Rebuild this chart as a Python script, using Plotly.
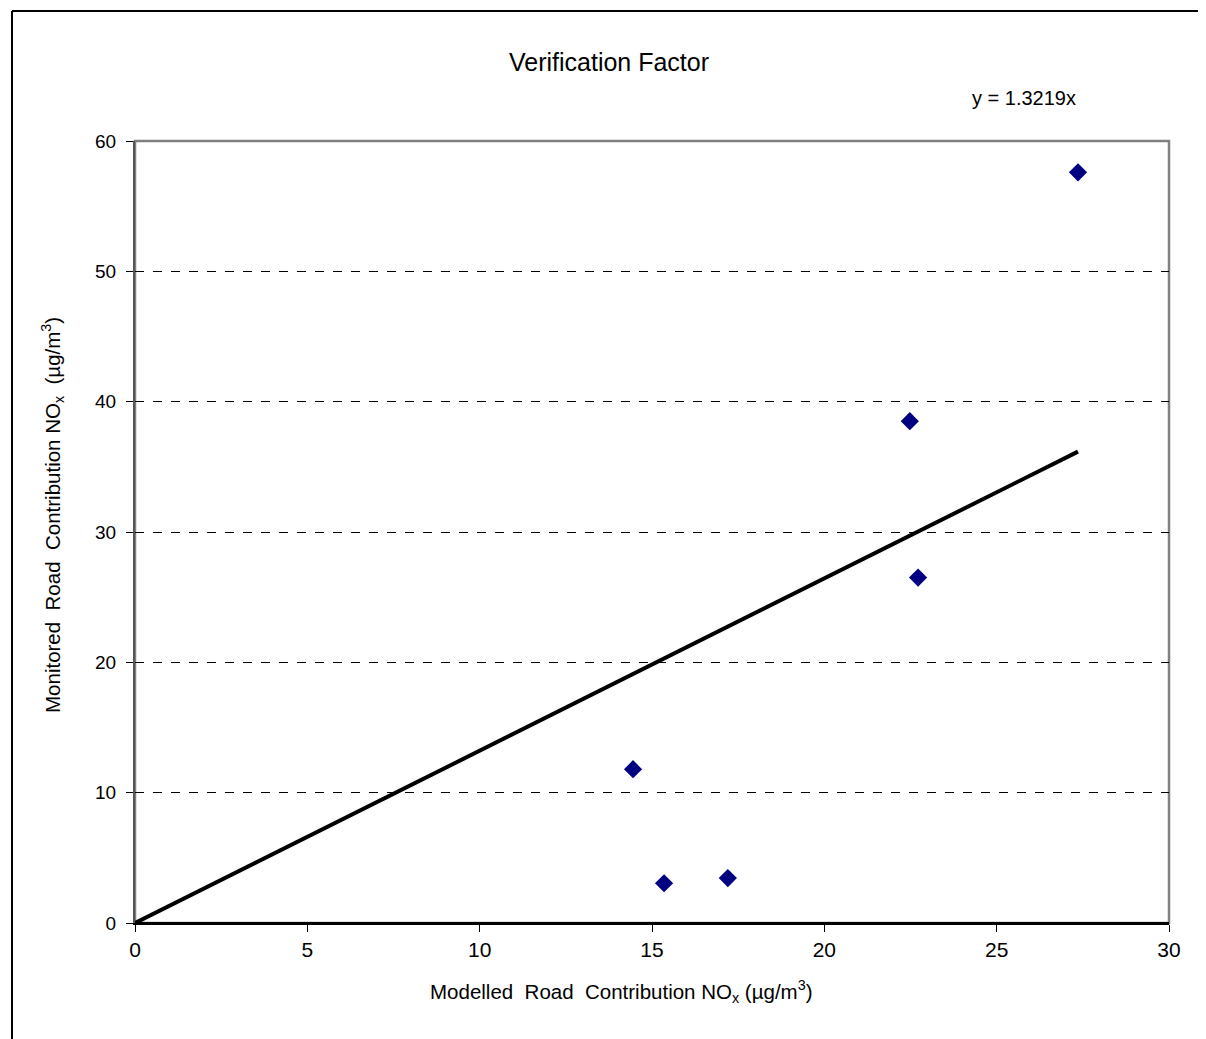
import plotly.graph_objects as go

modelled = [14.45, 15.35, 17.2, 22.48, 22.72, 27.36]
monitored = [11.8, 3.05, 3.45, 38.5, 26.5, 57.6]
slope = 1.3219
trend_x = [0, 27.36]
trend_y = [slope * v for v in trend_x]
x_ticks = [0, 5, 10, 15, 20, 25, 30]
y_ticks = [0, 10, 20, 30, 40, 50, 60]

font = "Liberation Sans, Arial, sans-serif"

# page body has an 8px offset; margins compensate so plot area sits at 135..1169 x 141..923
OFF = 8
L, R, T, B = 135 - OFF, 1206 + OFF - 1169, 141 - OFF, 1039 + OFF - 923
PW, PH = 1169 - 135, 923 - 141

def px(xp):
    return (xp - 135) / PW

def py(yp):
    return (923 - yp) / PH

fig = go.Figure()
fig.add_trace(go.Scatter(x=trend_x, y=trend_y, mode="lines",
                         line=dict(color="black", width=4), showlegend=False,
                         cliponaxis=False))
fig.add_trace(go.Scatter(x=modelled, y=monitored, mode="markers",
                         marker=dict(symbol="diamond", size=14, color="#000080"),
                         showlegend=False, cliponaxis=False))

fig.update_layout(
    width=1206, height=1039,
    margin=dict(l=L, r=R, t=T, b=B),
    paper_bgcolor="white", plot_bgcolor="white",
    font=dict(family=font, size=18, color="black"),
    title=dict(text="Verification Factor", x=(609 - OFF) / 1206, xanchor="center",
               y=1 - (62 - OFF) / 1039, yanchor="middle",
               font=dict(size=25, family=font)),
    xaxis=dict(range=[0, 30], tickvals=x_ticks, showgrid=False, zeroline=False,
               showline=True, linecolor="black", linewidth=2,
               ticks="outside", ticklen=7, tickcolor="black",
               tickfont=dict(size=21)),
    yaxis=dict(range=[0, 60], tickvals=y_ticks, showgrid=True, gridcolor="black",
               griddash="dash", gridwidth=1, zeroline=False,
               showline=True, linecolor="#555555", linewidth=2,
               ticks="outside", ticklen=7, tickcolor="black",
               tickfont=dict(size=19), ticklabelstandoff=6),
    shapes=[
        dict(type="rect", xref="paper", yref="paper", x0=0, x1=1, y0=0, y1=1,
             line=dict(color="#808080", width=2.5), layer="below"),
        dict(type="line", xref="paper", yref="paper", x0=0, x1=1, y0=0, y1=0,
             line=dict(color="black", width=2)),
        dict(type="line", xref="paper", yref="paper",
             x0=px(12), x1=px(1230), y0=py(11), y1=py(11),
             line=dict(color="black", width=2)),
        dict(type="line", xref="paper", yref="paper",
             x0=px(12), x1=px(12), y0=py(11), y1=py(1060),
             line=dict(color="black", width=2)),
    ],
    annotations=[
        dict(text="y = 1.3219x", xref="paper", yref="paper",
             x=px(1024), y=py(98), showarrow=False,
             xanchor="center", yanchor="middle", font=dict(size=20)),
        dict(text="Modelled  Road  Contribution NO<sub>x</sub> (µg/m<sup>3</sup>)",
             xref="paper", yref="paper", x=px(621), y=py(991), showarrow=False,
             xanchor="center", yanchor="middle", font=dict(size=20.5)),
        dict(text="Monitored  Road  Contribution NO<sub>x</sub>  (µg/m<sup>3</sup>)",
             xref="paper", yref="paper", x=px(52), y=py(515), showarrow=False,
             textangle=-90, xanchor="center", yanchor="middle", font=dict(size=20.5)),
    ],
)

fig.write_html("out.html")
